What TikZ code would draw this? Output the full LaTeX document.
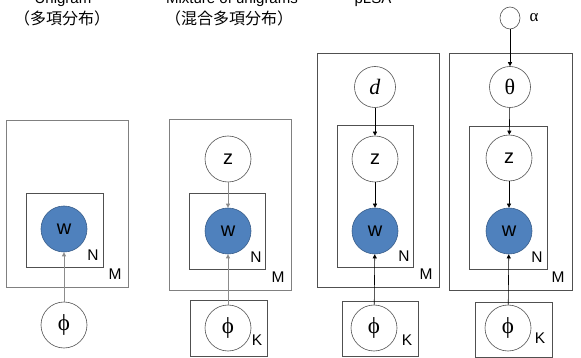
\documentclass[tikz,border=0pt]{standalone}
\usepackage{fontspec}
\setmainfont{Liberation Serif}
\setsansfont{Liberation Sans}
\newfontfamily\cjk{Noto Sans CJK JP}
\usetikzlibrary{arrows.meta}
\definecolor{wblue}{HTML}{4F81BD}
\definecolor{wedge}{HTML}{385D8A}
\definecolor{boxc}{HTML}{505050}
\definecolor{lightbox}{HTML}{808080}
\definecolor{arrg}{HTML}{8C8C8C}
\tikzset{
  var/.style={circle,draw=boxc,line width=0.6pt,fill=white,minimum size=46pt,inner sep=0pt,font=\sffamily\fontsize{20}{20}\selectfont},
  smallvar/.style={circle,draw=boxc,line width=0.6pt,fill=white,minimum size=41pt,inner sep=0pt,font=\rmfamily\fontsize{22}{22}\selectfont},
  obs/.style={var,fill=wblue,draw=wedge},
  hyper/.style={ellipse,draw=boxc,line width=0.6pt,fill=white,minimum width=20pt,minimum height=22pt,inner sep=0pt},
  plate/.style={draw=boxc,line width=0.7pt},
  lplate/.style={draw=lightbox,line width=0.8pt},
  plab/.style={font=\sffamily\fontsize{15.5}{15.5}\selectfont,inner sep=0pt},
  title/.style={font=\sffamily\fontsize{15}{15}\selectfont,inner sep=0pt,anchor=base},
  ctitle/.style={font=\cjk\fontsize{16}{16}\selectfont,inner sep=0pt},
  garr/.style={draw=arrg,line width=1pt,-{Triangle[length=4pt,width=4pt]}},
  barr/.style={draw=black,line width=0.6pt,-{Triangle[length=4pt,width=4pt]}},
  phi/.style={var,font=\rmfamily\fontsize{23}{23}\selectfont}
}
\usetikzlibrary{shapes.geometric}
\begin{document}
\begin{tikzpicture}[x=1pt,y=-1pt]
\useasboundingbox (0,0) rectangle (581,358);
% titles
\node[title] (t1) at (63,4) {Unigram};
\node[ctitle] (c1) at (62,18) {（多項分布）};
\node[title] (t2) at (232,4) {Mixture of unigrams};
\node[ctitle] (c2) at (229,18) {（混合多項分布）};
\node[title] (t3) at (373,4) {pLSA};
% panel 1
\draw[lplate] (6,120) rectangle (128,287);
\draw[plate] (26,193) rectangle (103,267);
\node[obs] (w1) at (64,229) {w};
\node[phi] (p1) at (64,325) {ϕ};
\node[plab] (n1) at (93,255) {N};
\node[plab] (m1) at (115,274) {M};
\draw[garr] (p1) -- (w1);
% panel 2
\draw[lplate] (169,119) rectangle (291,290);
\draw[plate] (189,193) rectangle (265,269);
\draw[plate] (190,300) rectangle (267,356);
\node[var] (z2) at (228,159) {z};
\node[obs] (w2) at (228,231) {w};
\node[phi] (p2) at (228,328) {ϕ};
\node[plab] (n2) at (256,257) {N};
\node[plab] (m2) at (278,277) {M};
\node[plab] (k2) at (257,340) {K};
\draw[garr] (z2) -- (w2);
\draw[garr] (p2) -- (w2);
% panel 3
\draw[plate] (317,53) rectangle (439,287);
\draw[plate] (337,125) rectangle (413,267);
\draw[plate] (342,301) rectangle (418,356);
\node[smallvar] (d3) at (375,87) {\textit{d}};
\node[var] (z3) at (375,159) {z};
\node[obs] (w3) at (375,231) {w};
\node[phi] (p3) at (374,328) {ϕ};
\node[plab] (n3) at (404,256) {N};
\node[plab] (m3) at (426,274) {M};
\node[plab] (k3) at (407,340) {K};
\draw[barr] (d3) -- (z3);
\draw[barr] (z3) -- (w3);
\draw[barr] (p3) -- (w3);
% panel 4
\draw[plate] (449,53) rectangle (572,290);
\draw[plate] (469,126) rectangle (547,269);
\draw[plate] (475,302) rectangle (552,357);
\node[hyper] (a4) at (510,18) {};
\node[font=\rmfamily\fontsize{17}{17}\selectfont,inner sep=0pt] (al) at (534,18) {α};
\node[smallvar] (th4) at (510,87) {θ};
\node[var] (z4) at (509,158) {z};
\node[obs] (w4) at (509,231) {w};
\node[phi] (p4) at (508,328) {ϕ};
\node[plab] (n4) at (537,257) {N};
\node[plab] (m4) at (558,277) {M};
\node[plab] (k4) at (540,338) {K};
\draw[barr] (a4) -- (th4);
\draw[barr] (th4) -- (z4);
\draw[barr] (z4) -- (w4);
\draw[barr] (p4) -- (w4);
\end{tikzpicture}
\end{document}
